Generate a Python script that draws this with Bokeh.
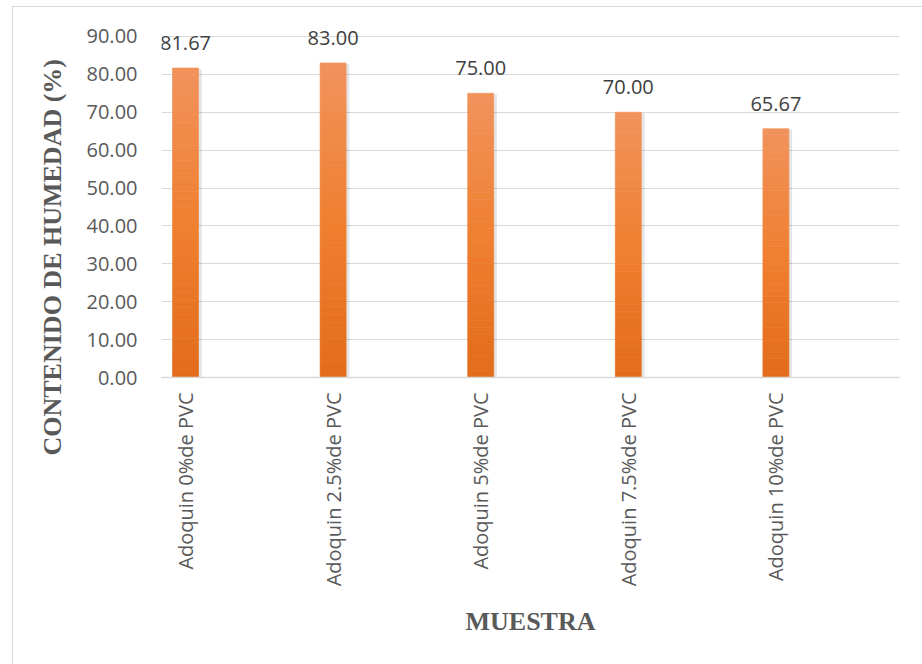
import numpy as np
from math import pi
from bokeh.plotting import figure
from bokeh.models import Range1d, FixedTicker, NumeralTickFormatter, Title
from bokeh.embed import file_html
from bokeh.resources import INLINE
from bokeh.core.properties import value

categories = ["Adoquin 0%de PVC", "Adoquin 2.5%de PVC", "Adoquin 5%de PVC",
              "Adoquin 7.5%de PVC", "Adoquin 10%de PVC"]
values = [81.67, 83.00, 75.00, 70.00, 65.67]
y_ticks = [0, 10, 20, 30, 40, 50, 60, 70, 80, 90]
x_title = "MUESTRA"
y_title = "CONTENIDO DE HUMEDAD (%)"

n = len(categories)
xs = np.arange(n)
offset = 24 / 147.6
bar_w = 26 / 147.6

p = figure(frame_width=738, frame_height=360,
           min_border_left=148, min_border_right=23,
           min_border_top=10, min_border_bottom=287,
           x_range=Range1d(-offset, n - offset), y_range=Range1d(0, 95),
           output_backend="svg", toolbar_location=None,
           background_fill_color="white", border_fill_color="white")
p.outline_line_color = None
p.styles = {"border-left": "1px solid #d9d9d9", "border-top": "1px solid #d9d9d9",
            "margin-left": "12px", "margin-top": "6px"}

# grid
p.xgrid.visible = False
p.ygrid.ticker = FixedTicker(ticks=y_ticks)
p.ygrid.grid_line_color = "#d9d9d9"
p.ygrid.grid_line_width = 1.2

# shadow
p.vbar(x=xs + 0.012, top=np.array(values) - 0.3, width=bar_w + 0.02, bottom=0,
       fill_color="#000000", fill_alpha=0.10, line_color=None)

# gradient bars
N = 40
top_c = np.array([241, 146, 92])
mid_c = np.array([240, 128, 48])
bot_c = np.array([226, 107, 26])
bx, bb, bt, bc = [], [], [], []
for i, v in enumerate(values):
    for k in range(N):
        f = (k + 0.5) / N
        if f < 0.5:
            c = bot_c + (mid_c - bot_c) * (f / 0.5)
        else:
            c = mid_c + (top_c - mid_c) * ((f - 0.5) / 0.5)
        bx.append(xs[i])
        bb.append(v * k / N)
        bt.append(v * (k + 1) / N)
        bc.append("#%02x%02x%02x" % tuple(int(round(t)) for t in c))
p.vbar(x=bx, bottom=bb, top=bt, width=bar_w, fill_color=bc, line_color=bc, line_width=0.6)

# data labels
p.text(x=xs, y=values, text=[f"{v:.2f}" for v in values],
       text_align="center", text_baseline="alphabetic", y_offset=-25,
       text_font=value("Open Sans"), text_font_size="20px", text_color="#404040")

# y axis
p.yaxis.ticker = FixedTicker(ticks=y_ticks)
p.yaxis.formatter = NumeralTickFormatter(format="0.00")
p.yaxis.axis_line_color = None
p.yaxis.major_tick_line_color = None
p.yaxis.minor_tick_line_color = None
p.yaxis.major_tick_out = 0
p.yaxis.major_label_standoff = 24
p.yaxis.major_label_text_font = "Open Sans"
p.yaxis.major_label_text_font_size = "20px"
p.yaxis.major_label_text_color = "#595959"

# x axis
p.xaxis.ticker = FixedTicker(ticks=list(xs))
p.xaxis.major_label_overrides = {int(i): c for i, c in zip(xs, categories)}
p.xaxis.major_label_orientation = pi / 2
p.xaxis.axis_line_color = "#d9d9d9"
p.xaxis.axis_line_width = 1.5
p.xaxis.major_tick_line_color = None
p.xaxis.minor_tick_line_color = None
p.xaxis.major_tick_out = 0
p.xaxis.major_label_standoff = 15
p.xaxis.major_label_text_font = "Open Sans"
p.xaxis.major_label_text_font_size = "20px"
p.xaxis.major_label_text_color = "#595959"
p.xaxis.axis_label = x_title
p.xaxis.axis_label_standoff = 18
p.xaxis.axis_label_text_font = "Liberation Serif"
p.xaxis.axis_label_text_font_style = "bold"
p.xaxis.axis_label_text_font_size = "26px"
p.xaxis.axis_label_text_color = "#595959"

# y title
p.add_layout(Title(text=y_title, align="left", offset=-78, standoff=34,
                   text_font="Liberation Serif", text_font_style="bold",
                   text_font_size="26px", text_color="#595959"), "left")

open("out.html", "w").write(file_html(p, INLINE))
